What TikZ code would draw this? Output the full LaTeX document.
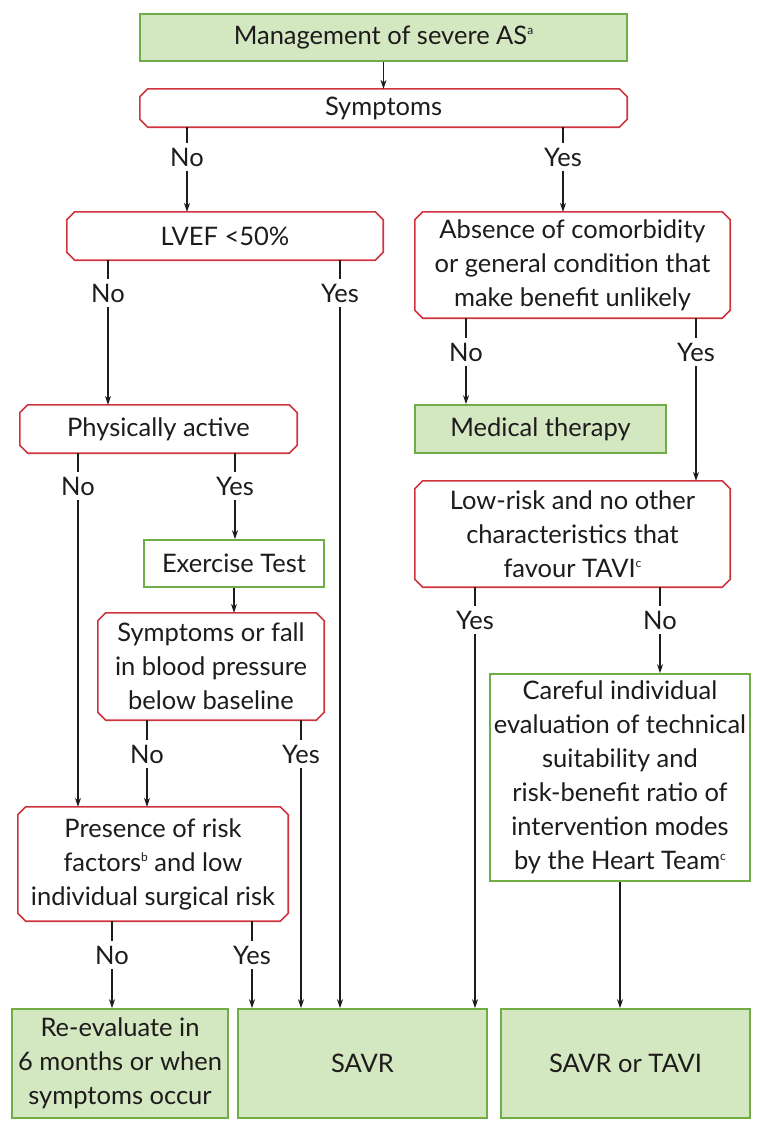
\documentclass[tikz,border=0pt]{standalone}
\usepackage{fontspec}
\setmainfont{Lato}
\usetikzlibrary{arrows.meta}
\definecolor{gfill}{RGB}{211,231,192}
\definecolor{gline}{RGB}{112,173,71}
\definecolor{rline}{RGB}{207,52,62}
\definecolor{ink}{RGB}{30,27,28}
\newcommand\brconn[3]{%
  \draw[ln] (#1.south -| #2.north) -- (#2.north);
  \draw[arr] (#2.south) -- (#2.south |- #3.north);}
\newcommand\supmark[1]{\raisebox{0.75ex}{\fontsize{12}{12}\selectfont #1}}
\begin{document}
\begin{tikzpicture}[x=1pt,y=-1pt,
  every node/.style={font=\fontsize{25.5}{34}\selectfont, text=ink},
  sz/.style 2 args={minimum width=#1pt, minimum height=#2pt},
  gbox/.style={draw=gline, line width=1.6pt, fill=gfill, inner sep=0pt, align=center},
  wbox/.style={draw=gline, line width=1.6pt, fill=white, inner sep=0pt, align=center},
  rbox/.style={inner sep=0pt, align=center},
  rl/.style={draw=rline, line width=1.6pt, line join=miter},
  lab/.style={inner xsep=2pt, inner ysep=5pt},
  ln/.style={draw=ink, line width=1.1pt},
  arr/.style={ln, -{Stealth[length=9pt, width=6pt]}}]
\useasboundingbox (0,0) rectangle (768,1135);
% boxes
\node[gbox, sz={487}{47}] (mgmt) at (383.5,37.5) {Management of severe AS\supmark{a}};
\node[rbox, sz={487}{38}] (sym) at (383.5,108) {Symptoms};
\node[rbox, sz={316}{48}] (lvef) at (225,236) {LVEF <50\%};
\node[rbox, sz={315}{106}] (abs) at (572.5,265) {Absence of comorbidity\\or general condition that\\make benefit unlikely};
\node[rbox, sz={277}{48}] (pa) at (158.5,429) {Physically active};
\node[gbox, sz={251}{48}] (med) at (540.5,429) {Medical therapy};
\node[wbox, sz={180}{47}] (ex) at (234,563.5) {Exercise Test};
\node[rbox, sz={226}{107}] (sof) at (211,666.5) {Symptoms or fall\\in blood pressure\\below baseline};
\node[rbox, sz={315}{106}] (low) at (572.5,534) {Low-risk and no other\\characteristics that\\favour TAVI\supmark{c}};
\node[wbox, sz={260}{207}] (car) at (620,777.5) {Careful individual\\evaluation of technical\\suitability and\\risk-benefit ratio of\\intervention modes\\by the Heart Team\supmark{c}};
\node[rbox, sz={270}{114}] (pre) at (153,864) {Presence of risk\\factors\supmark{b} and low\\individual surgical risk};
\node[gbox, sz={216}{109}] (re) at (120,1063.5) {Re-evaluate in\\6 months or when\\symptoms occur};
\node[gbox, sz={249}{109}] (savr) at (362.5,1063.5) {SAVR};
\node[gbox, sz={249}{109}] (st) at (625.5,1063.5) {SAVR or TAVI};
% chamfered outlines
\foreach \n in {sym,lvef,abs,pa,sof,low,pre}{
  \draw[rl] ([xshift=8pt]\n.north west) -- ([xshift=-8pt]\n.north east)
    -- ([yshift=-8pt]\n.north east) -- ([yshift=8pt]\n.south east)
    -- ([xshift=-8pt]\n.south east) -- ([xshift=8pt]\n.south west)
    -- ([yshift=8pt]\n.south west) -- ([yshift=-8pt]\n.north west) -- cycle;
}
% labels
\node[lab] (n1) at (187,157) {No};
\node[lab] (y1) at (563,157) {Yes};
\node[lab] (n2) at (108,293) {No};
\node[lab] (y2) at (340,293) {Yes};
\node[lab] (n3) at (466,352) {No};
\node[lab] (y3) at (696,352) {Yes};
\node[lab] (n4) at (78,486) {No};
\node[lab] (y4) at (235,486) {Yes};
\node[lab] (y5) at (475,620) {Yes};
\node[lab] (n5) at (660,620) {No};
\node[lab] (n6) at (147,754) {No};
\node[lab] (y6) at (301,754) {Yes};
\node[lab] (n7) at (112,955) {No};
\node[lab] (y7) at (252,955) {Yes};
% connectors
\draw[arr] (mgmt) -- (sym);
\brconn{sym}{n1}{lvef}
\brconn{sym}{y1}{abs}
\brconn{lvef}{n2}{pa}
\brconn{lvef}{y2}{savr}
\brconn{abs}{n3}{med}
\brconn{abs}{y3}{low}
\brconn{pa}{n4}{pre}
\brconn{pa}{y4}{ex}
\brconn{low}{y5}{savr}
\brconn{low}{n5}{car}
\brconn{sof}{n6}{pre}
\brconn{sof}{y6}{savr}
\brconn{pre}{n7}{re}
\brconn{pre}{y7}{savr}
\draw[arr] (ex.south) -- (ex.south |- sof.north);
\draw[arr] (car.south) -- (car.south |- st.north);
\end{tikzpicture}
\end{document}
